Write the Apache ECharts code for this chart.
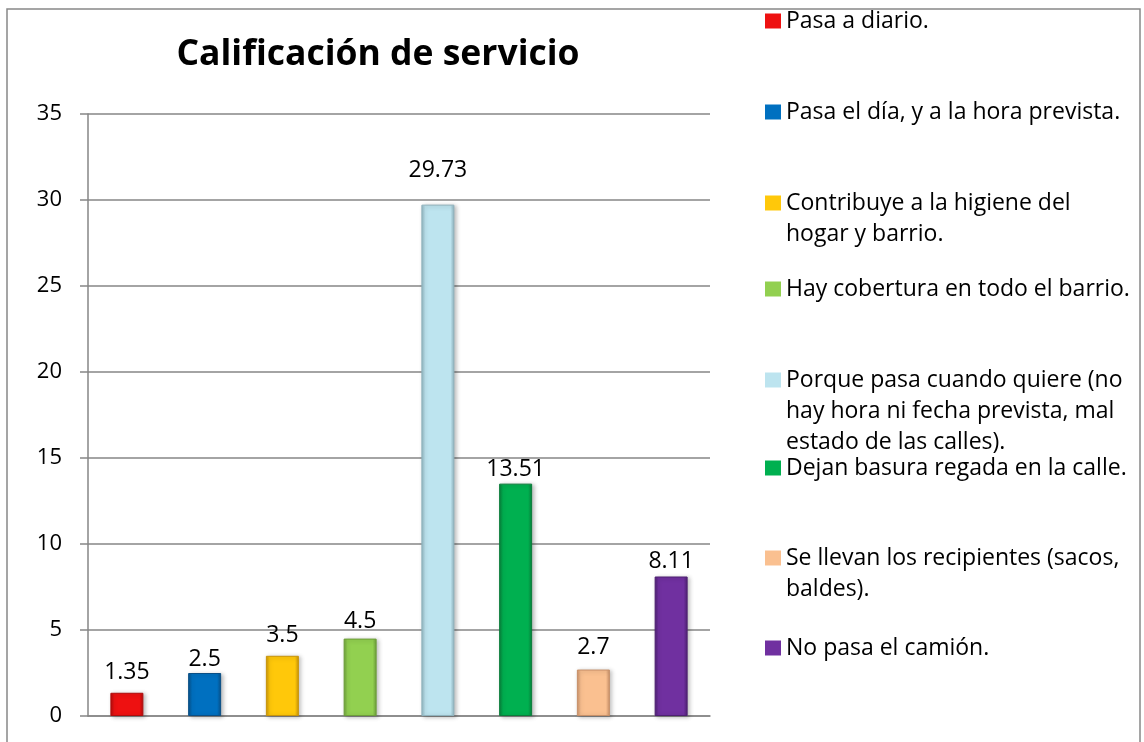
<!DOCTYPE html>
<html>
<head>
<meta charset="utf-8">
<script src="https://cdn.jsdelivr.net/npm/echarts@6/dist/echarts.min.js"></script>
<style>
html,body{margin:0;padding:0;background:#fff;}
#chart{width:1144px;height:742px;}
</style>
</head>
<body>
<div id="chart"></div>
<script>
// ---- data ----
const categories = [
  'Pasa a diario.',
  'Pasa el día, y a la hora prevista.',
  'Contribuye a la higiene del\nhogar y barrio.',
  'Hay cobertura en todo el barrio.',
  'Porque pasa cuando quiere (no\nhay hora ni fecha prevista, mal\nestado de las calles).',
  'Dejan basura regada en la calle.',
  'Se llevan los recipientes (sacos,\nbaldes).',
  'No pasa el camión.'
];
const values = [1.35, 2.5, 3.5, 4.5, 29.73, 13.51, 2.7, 8.11];
const yTicks = [0, 5, 10, 15, 20, 25, 30, 35];
const titleText = 'Calificación de servicio';

// ---- styles / layout ----
const colors = ['#ee1111', '#0070c0', '#ffc80a', '#92d050', '#bde4ef', '#00b050', '#fac090', '#7030a0'];
const borders = ['#b00c0c', '#0a4f86', '#c8940a', '#6d9e3a', '#8fb3be', '#0a7d3a', '#c89068', '#4e2072'];
const labelDistances = [9, 2, 9, 6, 23, 3, 11, 4];
const legendCenterY = [21, 112, 203, 289, 380, 468, 558, 648];
const FONT = '"Open Sans", Lato, sans-serif';
const LH = 31;

const chart = echarts.init(document.getElementById('chart'), null, {renderer: 'canvas'});

const series = categories.map((name, i) => ({
  name: name,
  type: 'bar',
  stack: 'all',
  barWidth: 33,
  data: values.map((v, j) => (j === i ? v : '-')),
  itemStyle: {
    color: {
      type: 'linear', x: 0, y: 0, x2: 1, y2: 0,
      colorStops: [
        {offset: 0, color: borders[i]},
        {offset: 0.12, color: colors[i]},
        {offset: 0.88, color: colors[i]},
        {offset: 1, color: borders[i]}
      ]
    },
    borderColor: borders[i],
    borderWidth: 1,
    shadowColor: 'rgba(0,0,0,0.25)',
    shadowBlur: 4,
    shadowOffsetX: 2,
    shadowOffsetY: 1
  },
  label: {
    show: true,
    position: 'top',
    distance: labelDistances[i],
    fontSize: 23,
    fontFamily: FONT,
    color: '#000'
  },
  emphasis: {disabled: true}
}));

const legends = categories.map((name, i) => {
  const n = name.split('\n').length;
  return {
    orient: 'vertical',
    left: 765,
    top: legendCenterY[i] - LH * (2 * n - 1) / 2,
    padding: 0,
    itemWidth: 16,
    itemHeight: 15,
    itemStyle: {borderWidth: 0, color: colors[i]},
    data: [{name: name, icon: 'rect'}],
    formatter: (nm) => '\n'.repeat(n - 1) + nm,
    textStyle: {
      fontSize: 23,
      fontFamily: FONT,
      color: '#000',
      lineHeight: LH
    }
  };
});

chart.setOption({
  animation: false,
  backgroundColor: '#fff',
  title: {
    text: titleText,
    left: 373,
    top: 32,
    textAlign: 'center',
    textStyle: {fontSize: 35.5, fontWeight: 'bold', fontFamily: FONT, color: '#000'}
  },
  graphic: [{
    type: 'rect',
    shape: {x: 7, y: 9, width: 1133, height: 760},
    style: {fill: 'none', stroke: '#888', lineWidth: 1.5},
    silent: true
  }],
  legend: legends,
  grid: {left: 88, right: 434, top: 114, bottom: 26, containLabel: false},
  xAxis: {
    type: 'category',
    data: categories,
    axisLine: {show: true, lineStyle: {color: '#868686', width: 1.5}},
    axisTick: {show: false},
    axisLabel: {show: false}
  },
  yAxis: {
    type: 'value',
    min: yTicks[0],
    max: yTicks[yTicks.length - 1],
    interval: yTicks[1] - yTicks[0],
    axisLine: {show: true, lineStyle: {color: '#868686', width: 1.5}},
    axisTick: {show: true, length: 8, lineStyle: {color: '#868686', width: 1.5}},
    splitLine: {show: true, lineStyle: {color: '#868686', width: 1.5}},
    axisLabel: {fontSize: 22, fontFamily: FONT, color: '#000', margin: 26}
  },
  series: series
});
</script>
</body>
</html>
